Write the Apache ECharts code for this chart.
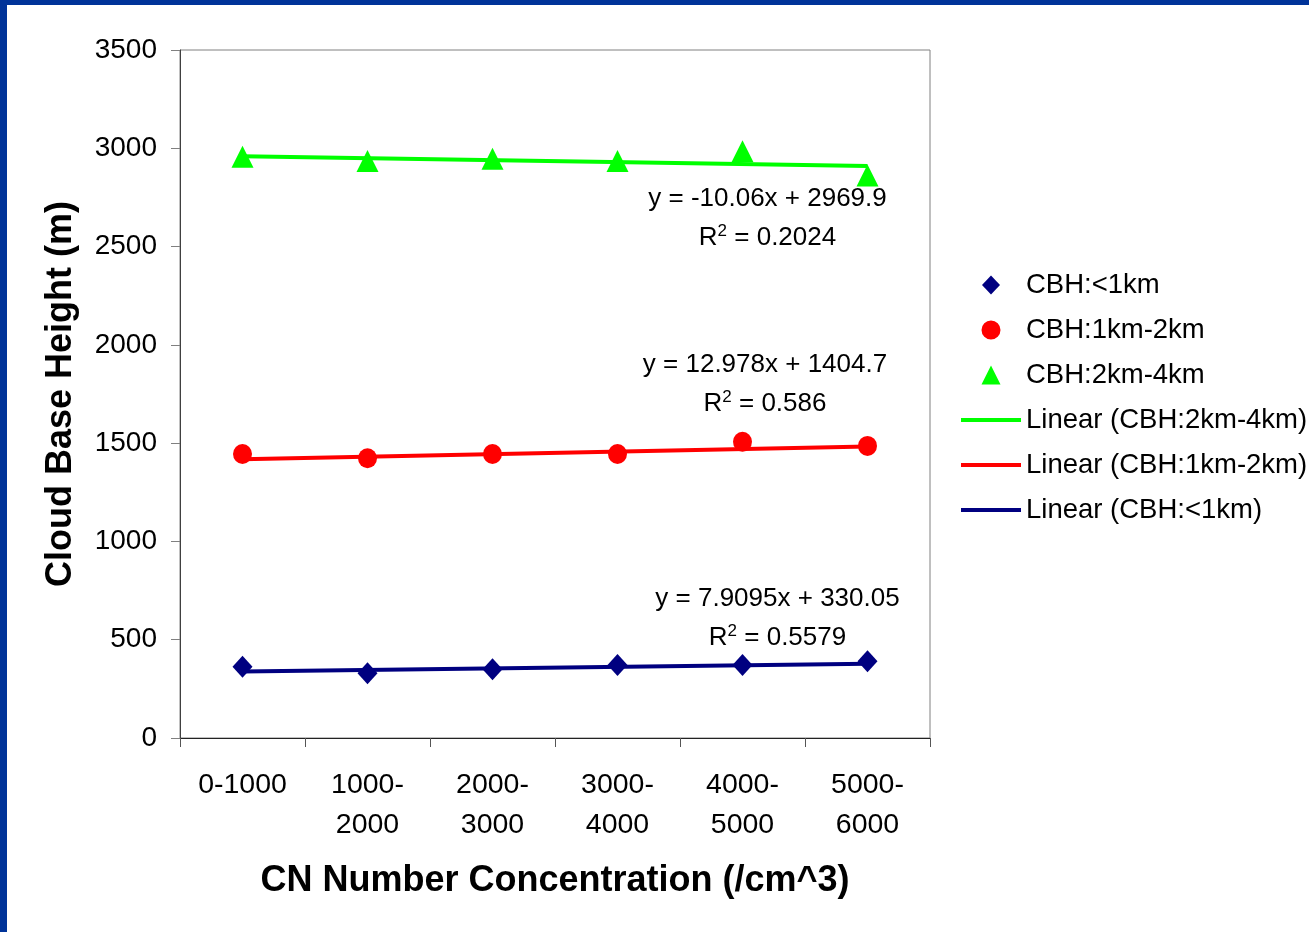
<!DOCTYPE html>
<html>
<head>
<meta charset="UTF-8">
<title>Cloud Base Height vs CN</title>
<script src="https://cdn.jsdelivr.net/npm/echarts@6/dist/echarts.min.js"></script>
<style>
  html, body { margin: 0; padding: 0; background: #fff; }
  #chart { position: absolute; left: 0; top: 0; width: 1309px; height: 932px; }
  .edge { position: absolute; background: #003399; }
</style>
</head>
<body>
<div id="chart"></div>
<div class="edge" style="left:0;top:0;width:1309px;height:5px;"></div>
<div class="edge" style="left:0;top:0;width:7px;height:932px;"></div>
<script>
// categories (CN number concentration bins)
var categories = ['0-1000', '1000-\n2000', '2000-\n3000', '3000-\n4000', '4000-\n5000', '5000-\n6000'];

// cloud base height (m) per bin
var cbhLow = [362, 329, 350, 372, 372, 391];        // CBH:<1km
var cbhMid = [1445, 1423, 1445, 1445, 1507, 1486];  // CBH:1km-2km
var cbhHigh = [2957, 2935, 2947, 2935, 2985, 2862]; // CBH:2km-4km

// linear trend endpoints at bin 1 and bin 6
var trendLow = [338, 378];
var trendMid = [1418, 1483];
var trendHigh = [2960, 2910];

// trend equation texts
var eqLow = ['y = 7.9095x + 330.05', '0.5579'];
var eqMid = ['y = 12.978x + 1404.7', '0.586'];
var eqHigh = ['y = -10.06x + 2969.9', '0.2024'];

var yTicks = { min: 0, max: 3500, step: 500 };

var FONT = 'Liberation Sans, Arial, sans-serif';
var NAVY = '#000080', RED = '#ff0000', GREEN = '#00ff00';

// legend icons (paths keep their aspect inside the 60px legend box)
var ICON_DIAMOND = 'path://M9,0L18,9.5L9,19L0,9.5Z';
var ICON_CIRCLE = 'path://M8,0A8,8,0,1,1,7.99,0Z';
var ICON_TRIANGLE = 'path://M9,0L18,18L0,18Z';
var ICON_LINE = 'path://M0,0L60,0L60,4L0,4Z';

var chart = echarts.init(document.getElementById('chart'));

function pts(vals) {
  return vals.map(function (v, i) { return [i + 1, v]; });
}
function trend(ends) {
  return [[1, ends[0]], [categories.length, ends[1]]];
}
// equation label anchored at a data point (x on the hidden value axis)
function eqLabel(eq, at) {
  return {
    type: 'scatter', xAxisIndex: 1, symbolSize: 0, silent: true, z: 5,
    itemStyle: { opacity: 1 },
    data: [at],
    label: {
      show: true, position: 'inside', align: 'center', verticalAlign: 'middle',
      formatter: eq[0] + '\nR{s|2} = ' + eq[1],
      color: '#000', fontFamily: FONT, fontSize: 26, lineHeight: 39,
      rich: { s: { fontSize: 17, fontFamily: FONT, color: '#000', padding: [0, 0, 13, 0] } }
    }
  };
}

var option = {
  animation: false,
  backgroundColor: '#fff',
  textStyle: { fontFamily: FONT },
  grid: { left: 180, top: 50, width: 750, height: 688, show: true, borderColor: '#808080', borderWidth: 1 },
  legend: {
    orient: 'vertical', left: 956, top: 265,
    itemWidth: 60, itemHeight: 19, itemGap: 15,
    textStyle: { fontSize: 27.5, color: '#000', fontFamily: FONT, lineHeight: 30 },
    data: [
      { name: 'CBH:<1km', icon: ICON_DIAMOND },
      { name: 'CBH:1km-2km', icon: ICON_CIRCLE },
      { name: 'CBH:2km-4km', icon: ICON_TRIANGLE },
      { name: 'Linear (CBH:2km-4km)', icon: ICON_LINE },
      { name: 'Linear (CBH:1km-2km)', icon: ICON_LINE },
      { name: 'Linear (CBH:<1km)', icon: ICON_LINE }
    ]
  },
  xAxis: [{
    type: 'category', data: categories, boundaryGap: true,
    axisLine: { lineStyle: { color: '#222', width: 1 } },
    axisTick: { show: true, inside: false, length: 9, lineStyle: { color: '#555' } },
    axisLabel: { fontSize: 28.5, color: '#000', lineHeight: 40, margin: 27, fontFamily: FONT },
    name: 'CN Number Concentration (/cm^3)', nameLocation: 'middle', nameGap: 125,
    nameTextStyle: { fontSize: 36, fontWeight: 'bold', color: '#000', fontFamily: FONT },
    splitLine: { show: false }
  }, {
    type: 'value', min: 0.5, max: 6.5, show: false
  }],
  yAxis: {
    type: 'value', min: yTicks.min, max: yTicks.max, interval: yTicks.step,
    axisLine: { show: true, lineStyle: { color: '#404040' } },
    axisTick: { show: true, length: 9, lineStyle: { color: '#808080' } },
    axisLabel: { fontSize: 28, color: '#000', margin: 23, fontFamily: FONT,
      formatter: function (v) { return String(v); } },
    splitLine: { show: false },
    name: 'Cloud Base Height (m)', nameLocation: 'middle', nameGap: 101,
    nameTextStyle: { fontSize: 36, fontWeight: 'bold', color: '#000', fontFamily: FONT }
  },
  series: [
    { name: 'CBH:<1km', type: 'scatter', xAxisIndex: 1, data: pts(cbhLow),
      symbol: 'diamond', symbolSize: [20, 22], itemStyle: { color: NAVY, opacity: 1 } },
    { name: 'CBH:1km-2km', type: 'scatter', xAxisIndex: 1, data: pts(cbhMid),
      symbol: 'circle', symbolSize: [19, 20], itemStyle: { color: RED, opacity: 1 } },
    { name: 'CBH:2km-4km', type: 'scatter', xAxisIndex: 1, data: pts(cbhHigh),
      symbol: 'triangle', symbolSize: [22, 22], itemStyle: { color: GREEN, opacity: 1 } },
    { name: 'Linear (CBH:2km-4km)', type: 'line', xAxisIndex: 1, data: trend(trendHigh),
      symbol: 'none', z: 3, lineStyle: { color: GREEN, width: 4 }, itemStyle: { color: GREEN } },
    { name: 'Linear (CBH:1km-2km)', type: 'line', xAxisIndex: 1, data: trend(trendMid),
      symbol: 'none', z: 3, lineStyle: { color: RED, width: 4 }, itemStyle: { color: RED } },
    { name: 'Linear (CBH:<1km)', type: 'line', xAxisIndex: 1, data: trend(trendLow),
      symbol: 'none', z: 3, lineStyle: { color: NAVY, width: 4 }, itemStyle: { color: NAVY } },
    eqLabel(eqHigh, [5.2, 2645]),
    eqLabel(eqMid, [5.18, 1800]),
    eqLabel(eqLow, [5.28, 610])
  ]
};

chart.setOption(option);
</script>
</body>
</html>
